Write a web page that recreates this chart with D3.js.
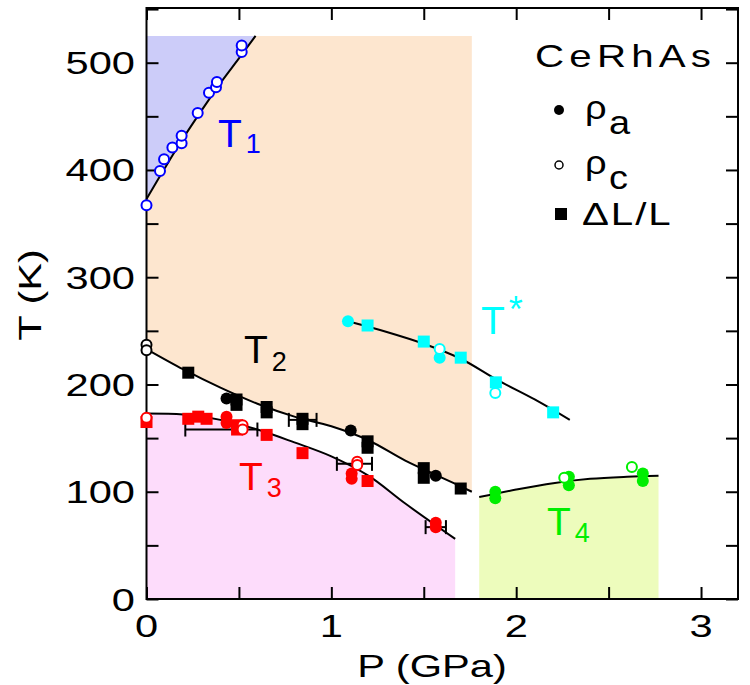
<!DOCTYPE html>
<html>
<head>
<meta charset="utf-8">
<script src="https://cdn.jsdelivr.net/npm/d3@7"></script>
<style>
  body { margin: 0; background: #fff; }
  svg { display: block; font-family: "Liberation Sans", Arial, sans-serif; }
</style>
</head>
<body>
<div id="chart"></div>
<script>
// ---- data (P in GPa, T in K) ----
let xTicks = [0, 1, 2, 3];
let yTicks = [0, 100, 200, 300, 400, 500];

// fitted phase lines
let t1Curve = [[0,373],[0.1,402],[0.2,430],[0.3,456],[0.4,481],[0.5,504],[0.59,525]];
let t2Curve = [[0,233],[0.2,214],[0.4,197],[0.6,182],[0.8,170],[1.0,161],[1.2,148],[1.4,129],[1.6,113],[1.76,100]];
let t3Curve = [[0,173],[0.2,172],[0.4,167],[0.6,158],[0.8,146],[1.0,133],[1.2,115],[1.4,89],[1.67,56]];
let tsCurve = [[1.09,259],[1.3,249],[1.5,238],[1.7,224],[1.9,204],[2.1,186],[2.29,167]];
let t4Curve = [[1.8,95],[2.0,102],[2.2,108],[2.4,112],[2.6,114],[2.77,115]];

// T1 (blue)
let t1RhoC = [[0,367],[0.073,399],[0.095,410],[0.14,421],[0.19,425],[0.19,432],[0.277,453],[0.338,472],[0.376,477],[0.381,482],[0.515,510],[0.515,516]];
// T2 (black)
let t2Sq = [[0.226,211],[0.487,186],[0.487,181],[0.65,179],[0.65,174],[0.844,168],[0.844,163],[1.196,147],[1.196,141],[1.5,122],[1.5,113],[1.70,103]];
let t2RhoA = [[0.433,187],[1.105,157],[1.565,115]];
let t2RhoC = [[0,237],[0,232]];
// T3 (red)
let t3Sq = [[0,165],[0.226,168],[0.28,170],[0.325,168],[0.49,162],[0.49,158],[0.65,153],[0.844,136],[1.196,110]];
let t3RhoA = [[0.433,170],[0.433,164],[1.11,117],[1.11,112],[1.565,71],[1.565,67]];
let t3RhoC = [[0,169],[0.52,162],[0.52,158],[1.14,128],[1.14,125]];
// T* (cyan)
let tsSq = [[1.196,255],[1.5,240],[1.70,225],[1.89,202],[2.2,174]];
let tsRhoA = [[1.09,259],[1.586,225]];
let tsRhoC = [[1.586,233],[1.887,192]];
// T4 (green)
let t4RhoA = [[1.887,100],[1.887,94],[2.285,114],[2.285,106],[2.685,117],[2.685,110]];
let t4RhoC = [[2.26,113],[2.626,123]];

// horizontal error bars: [Pmin, Pmax, T]
let errBars = [[0.21,0.6,158],[0.77,0.92,167],[1.03,1.22,126],[1.51,1.62,67]];

// shaded regions
let regionTop = 525;
let peachEnd = 1.76;

// ---- layout ----
let svgWidth = 750, svgHeight = 685;
let plot = {left: 146.5, right: 738, top: 8, bottom: 599};
let sx = 1.3; // horizontal stretch of the axis fonts

let svg = d3.select("#chart").append("svg")
    .attr("width", svgWidth)
    .attr("height", svgHeight);

let x = d3.scaleLinear().domain([0, 3.2]).range([plot.left, plot.right]);
let y = d3.scaleLinear().domain([0, 551]).range([plot.bottom, plot.top]);

let curve = d3.curveCatmullRom;
let line = d3.line().x(d => x(d[0])).y(d => y(d[1])).curve(curve);

// ---- shaded regions ----
let peachPts = t2Curve.filter(d => d[0] <= peachEnd);
svg.append("path")
    .attr("d", d3.area().x(d => x(d[0])).y0(d => y(d[1])).y1(y(regionTop)).curve(curve)(peachPts))
    .attr("fill", "#fde6cf");

svg.append("path")
    .attr("d", d3.area().x(d => x(d[0])).y0(d => y(d[1])).y1(y(regionTop)).curve(curve)(t1Curve))
    .attr("fill", "#ccccf9");

svg.append("path")
    .attr("d", d3.area().x(d => x(d[0])).y0(y(0)).y1(d => y(d[1])).curve(curve)(t3Curve))
    .attr("fill", "#fddcfb");

svg.append("path")
    .attr("d", d3.area().x(d => x(d[0])).y0(y(0)).y1(d => y(d[1])).curve(curve)(t4Curve))
    .attr("fill", "#edfcbc");

// ---- axes (ticks inside, mirrored) ----
let xMinor = d3.range(0, 3.01, 0.5);
let yMinor = d3.range(0, 551, 50);

svg.append("g").attr("transform", `translate(0,${plot.bottom})`)
    .call(d3.axisBottom(x).tickValues(xMinor).tickSize(-12).tickFormat(""));
svg.append("g").attr("transform", `translate(0,${plot.top})`)
    .call(d3.axisTop(x).tickValues(xMinor).tickSize(-12).tickFormat(""));
svg.append("g").attr("transform", `translate(${plot.left},0)`)
    .call(d3.axisLeft(y).tickValues(yMinor).tickSize(-12).tickFormat(""));
svg.append("g").attr("transform", `translate(${plot.right},0)`)
    .call(d3.axisRight(y).tickValues(yMinor).tickSize(-12).tickFormat(""));
svg.selectAll(".domain").remove();
svg.selectAll(".tick line").attr("stroke", "#000").attr("stroke-width", 2);

svg.append("rect")
    .attr("x", plot.left).attr("y", plot.top)
    .attr("width", plot.right - plot.left).attr("height", plot.bottom - plot.top)
    .attr("fill", "none").attr("stroke", "#000").attr("stroke-width", 2);

function stretchText(px, py, str, size, anchor) {
    return svg.append("text")
        .attr("transform", `translate(${px},${py}) scale(${sx},1)`)
        .attr("text-anchor", anchor || "middle")
        .attr("font-size", size)
        .text(str);
}

xTicks.forEach(v => stretchText(x(v), 637, v, 32, "middle"));
yTicks.forEach(v => stretchText(135, y(v) + 11.5, v, 32, "end"));

stretchText(432, 677, "P (GPa)", 32, "middle");
svg.append("text")
    .attr("transform", `translate(41,295) rotate(-90) scale(${sx},1)`)
    .attr("text-anchor", "middle")
    .attr("font-size", 32)
    .text("T (K)");

// ---- fitted lines ----
[t1Curve, t2Curve, t3Curve, tsCurve, t4Curve].forEach(c => {
    svg.append("path").attr("d", line(c))
        .attr("fill", "none").attr("stroke", "#000").attr("stroke-width", 2);
});

// ---- error bars ----
let eb = svg.append("g").attr("stroke", "#000").attr("stroke-width", 2);
errBars.forEach(d => {
    eb.append("line").attr("x1", x(d[0])).attr("x2", x(d[1])).attr("y1", y(d[2])).attr("y2", y(d[2]));
    [d[0], d[1]].forEach(p => {
        eb.append("line").attr("x1", x(p)).attr("x2", x(p)).attr("y1", y(d[2]) - 7).attr("y2", y(d[2]) + 7);
    });
});

// ---- markers ----
function squares(data, color) {
    svg.append("g").selectAll("rect").data(data).enter().append("rect")
        .attr("x", d => x(d[0]) - 6).attr("y", d => y(d[1]) - 6)
        .attr("width", 12).attr("height", 12)
        .attr("fill", color);
}
function dots(data, color) {
    svg.append("g").selectAll("circle").data(data).enter().append("circle")
        .attr("cx", d => x(d[0])).attr("cy", d => y(d[1]))
        .attr("r", 6).attr("fill", color);
}
function rings(data, color) {
    svg.append("g").selectAll("circle").data(data).enter().append("circle")
        .attr("cx", d => x(d[0])).attr("cy", d => y(d[1]))
        .attr("r", 5).attr("fill", "#fff")
        .attr("stroke", color).attr("stroke-width", 2);
}

rings(t1RhoC, "#0000ff");

squares(t2Sq, "#000");
dots(t2RhoA, "#000");
rings(t2RhoC, "#000");

squares(t3Sq, "#ff0000");
dots(t3RhoA, "#ff0000");
rings(t3RhoC, "#ff0000");

squares(tsSq, "#00ffff");
dots(tsRhoA, "#00ffff");
rings(tsRhoC, "#00ffff");

dots(t4RhoA, "#00ee00");
rings(t4RhoC, "#00ee00");

// ---- phase labels ----
function phaseLabel(px, py, sub, color, subDy) {
    let t = svg.append("text")
        .attr("x", px).attr("y", py)
        .attr("fill", color).attr("font-size", 39);
    t.append("tspan").text("T");
    t.append("tspan").attr("dx", 4).attr("dy", subDy).attr("font-size", sub === "*" ? 36 : 27).text(sub);
}
phaseLabel(218, 147, "1", "#0000ff", 6);
phaseLabel(244, 363, "2", "#000", 8);
phaseLabel(239, 490, "3", "#ff0000", 7);
phaseLabel(481, 334, "*", "#00ffff", -12);
phaseLabel(547, 535, "4", "#00ee00", 7);

// ---- legend ----
svg.append("text")
    .attr("transform", "translate(535,67) scale(1.3,1)")
    .attr("font-size", 31).attr("letter-spacing", 4)
    .text("CeRhAs");

let legY = [110, 165, 214];
svg.append("circle").attr("cx", 559).attr("cy", legY[0]).attr("r", 5).attr("fill", "#000");
svg.append("circle").attr("cx", 559).attr("cy", legY[1]).attr("r", 4).attr("fill", "#fff")
    .attr("stroke", "#000").attr("stroke-width", 1.5);
svg.append("rect").attr("x", 555).attr("y", legY[2] - 6).attr("width", 12).attr("height", 12).attr("fill", "#000");

function rhoLabel(py, sub) {
    let t = svg.append("text")
        .attr("transform", `translate(585,${py}) scale(1.15,1)`)
        .attr("font-size", 33);
    t.append("tspan").text("ρ");
    t.append("tspan").attr("dx", 2).attr("dy", 15).text(sub);
}
rhoLabel(119, "a");
rhoLabel(174, "c");
svg.append("text")
    .attr("transform", "translate(582,225) scale(1.3,1)")
    .attr("font-size", 31).attr("letter-spacing", 1.5)
    .text("ΔL/L");
</script>
</body>
</html>
